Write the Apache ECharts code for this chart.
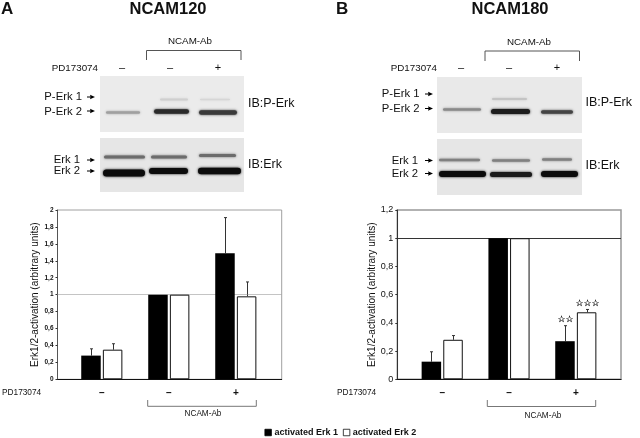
<!DOCTYPE html>
<html><head><meta charset="utf-8">
<style>html,body{margin:0;padding:0;background:#fff}#c{width:640px;height:438px}</style>
<script src="https://cdn.jsdelivr.net/npm/echarts@6/dist/echarts.min.js"></script>
</head><body><div id="c"></div>
<script>
const treatments = ['–', '–', '+'];
const erk1A = [0.28, 1, 1.49];
const erk2A = [0.35, 1, 0.98];
const erk1TopA = [0.36, null, 1.91];
const erk2TopA = [0.42, null, 1.15];
const erk1B = [0.125, 1, 0.27];
const erk2B = [0.28, 1, 0.475];
const erk1TopB = [0.195, null, 0.38];
const erk2TopB = [0.31, null, 0.495];
const starsErk1B = ['', '', '☆☆'];
const starsErk2B = ['', '', '☆☆☆'];

const FONT = '"Liberation Sans", Arial, sans-serif';
const INK = '#111';
const fmt = v => String(+v.toFixed(1)).replace('.', ',');
const G = [];
function txt(text, x, y, size, align, extra) {
  G.push({type:'text', z:5, style:Object.assign({text, x, y, font:`${size}px ${FONT}`, textAlign:align||'left', textVerticalAlign:'middle', fill:INK}, extra||{})});
}
function line(pts, color) {
  G.push({type:'polyline', z:5, shape:{points:pts}, style:{stroke:color||'#555', lineWidth:1, fill:null}});
}
function rect(x, y, w, h, fill) { G.push({type:'rect', z:1, shape:{x,y,width:w,height:h}, style:{fill}}); }
function band(x1, x2, cy, h, color, blur) {
  G.push({type:'rect', z:2, shape:{x:x1, y:cy-h/2, width:x2-x1, height:h, r:h/2}, style:{fill:color, shadowBlur:blur||2.5, shadowColor:color}});
}
function arrow(x1, x2, y) {
  G.push({type:'polygon', z:5, shape:{points:[[x1,y-0.6],[x2-4.5,y-0.6],[x2-5,y-2.2],[x2,y],[x2-5,y+2.2],[x2-4.5,y+0.6],[x1,y+0.6]]}, style:{fill:'#000'}});
}
// panel A blots
rect(100,76,144,56,'#ebebeb'); rect(100,138,144,54,'#e6e6e6');
band(106,140,112.5,2.5,'#a0a0a0'); band(154,189,111.5,4.5,'#2a2a2a'); band(199,237,112.5,4.5,'#3a3a3a');
band(160,188,99.5,2,'#cfcfcf'); band(200,230,99.5,1.5,'#d6d6d6');
band(104,145,157,3,'#6c6c6c'); band(151,187,157,3,'#6c6c6c'); band(199,236,155.5,3,'#6c6c6c');
band(103,145,173,7,'#0c0c0c'); band(149,188,171,6,'#0c0c0c'); band(198,241,171,6.5,'#0c0c0c');
// panel B blots
rect(437,77,145,56,'#e9e9e9'); rect(437,139,145,56,'#e6e6e6');
band(443,481,109.5,2.5,'#8a8a8a'); band(491,530,111.5,5,'#1d1d1d'); band(541,573,112,3.5,'#444');
band(492,527,99,2,'#c4c4c4');
band(439,480,160,2.5,'#808080'); band(492,530,160.5,2.5,'#808080'); band(542,572,159.5,2.5,'#808080');
band(439,486,174,6,'#0c0c0c'); band(490,532,174.5,5,'#1a1a1a'); band(541,578,174,6,'#0c0c0c');
// panel text
txt('A', 1, 9, 17, 'left', {font:`bold 17px ${FONT}`});
txt('B', 336, 9, 17, 'left', {font:`bold 17px ${FONT}`});
txt('NCAM-Ab', 190, 41, 9.8, 'center');
txt('NCAM-Ab', 529, 42, 9.8, 'center');
line([[146.5,60],[146.5,50.5],[241,50.5],[241,60]]);
line([[485,61],[485,51],[579.5,51],[579.5,61]]);
txt('PD173074', 98, 68, 9.8, 'right');
txt('PD173074', 437, 68, 9.8, 'right');
[[122,'–'],[170,'–'],[218,'+'],[461,'–'],[509,'–'],[557,'+']].forEach(p=>txt(p[1],p[0],67.5,11,'center'));
txt('P-Erk 1', 82, 97, 11.3, 'right'); txt('P-Erk 2', 82, 112, 11.3, 'right');
txt('Erk 1', 80, 159.5, 11.3, 'right'); txt('Erk 2', 80, 171, 11.3, 'right');
txt('P-Erk 1', 419.5, 94, 11.3, 'right'); txt('P-Erk 2', 419.5, 109, 11.3, 'right');
txt('Erk 1', 418, 161, 11.3, 'right'); txt('Erk 2', 418, 174, 11.3, 'right');
arrow(87,95,97); arrow(87,95,111); arrow(87,95,160); arrow(87,95,171);
arrow(425,433,94); arrow(425,433,108.5); arrow(425,433,160.5); arrow(425,433,173.5);
txt('IB:P-Erk', 248, 104, 12.5); txt('IB:Erk', 248, 165, 12.5);
txt('IB:P-Erk', 585.5, 103, 12.5); txt('IB:Erk', 585.5, 166, 12.5);
// below charts
txt('PD173074', 2, 393, 8.3); txt('PD173074', 337, 393, 8.3);
line([[147.7,400],[147.7,406.3],[256.3,406.3],[256.3,400]], '#777');
line([[487.3,400],[487.3,406.5],[595.7,406.5],[595.7,400]], '#777');
txt('NCAM-Ab', 203, 413.5, 8.2, 'center'); txt('NCAM-Ab', 543, 416, 8.2, 'center');

const values = {err12:erk1A, err22:erk2A, err13:erk1B, err23:erk2B};
function errorSeries(name, tops, xIdx, yIdx, sign, stars) {
  return {
    type:'custom', name, xAxisIndex:xIdx, yAxisIndex:yIdx, z:1, silent:true, legendHoverLink:false,
    data:tops.map((t,i)=>[i, t, values[name+xIdx][i]]),
    encode:{x:0,y:1},
    renderItem(params, api) {
      if (api.value(1) == null || isNaN(api.value(1))) return {type:'group', children:[]};
      const top = api.coord([api.value(0), api.value(1)]);
      const base = api.coord([api.value(0), api.value(2)]);
      const x = Math.round(top[0] + sign*10.8) + 0.5;
      const stroke = {stroke:'#333', lineWidth:1};
      const kids = [
        {type:'line', shape:{x1:x,y1:base[1],x2:x,y2:top[1]}, style:stroke},
        {type:'line', shape:{x1:x-1.5,y1:top[1],x2:x+1.5,y2:top[1]}, style:stroke}
      ];
      const s = stars && stars[params.dataIndex];
      if (s) kids.push({type:'text', style:{text:s, x:x, y:top[1]-6, textAlign:'center', textVerticalAlign:'middle', font:`9px "DejaVu Sans"`, fill:'#000', stroke:'#000', lineWidth:0.2}});
      return {type:'group', children:kids};
    }
  };
}
function bars(name, data, idx, white) {
  return {type:'bar', name, data, xAxisIndex:idx, yAxisIndex:idx, barWidth:19.5, barGap:'11%', animation:false, z:3,
    itemStyle: white ? {color:'#fff', borderColor:'#111', borderWidth:1} : {color:'#000', borderColor:'#000', borderWidth:0}};
}
function refLine(idx, color, type) {
  return {type:'line', data:[1], xAxisIndex:idx, yAxisIndex:idx, symbol:'none', lineStyle:{opacity:0}, silent:true, z:2, legendHoverLink:false,
    markLine:{silent:true, symbol:'none', label:{show:false}, animation:false, z:2, data:[{yAxis:1}], lineStyle:{color, type, width:1}}};
}
const frameX = i => ({type:'category', gridIndex:i, data:[''], axisLine:{show:true,lineStyle:{color:'#111',width:1}}, axisTick:{show:false}, axisLabel:{show:false}});
const innerX = i => ({type:'category', gridIndex:i, data:treatments, axisLine:{show:false}, axisTick:{show:false},
  axisLabel:{interval:0, margin:9, fontSize:10, fontWeight:'bold', color:INK, fontFamily:FONT}});
const frameY = (i,max,size,gap,col) => ({type:'value', gridIndex:i, min:0, max, interval:0.2, splitLine:{show:false},
  name:'Erk1/2-activation (arbitrary units)', nameLocation:'middle', nameGap:gap, nameTextStyle:{fontSize:10, color:INK, fontFamily:FONT},
  axisLine:{show:true,lineStyle:{color:col,width:1}}, axisTick:{show:true,length:2,lineStyle:{color:'#333'}},
  axisLabel:{formatter:fmt, fontSize:size, margin:4, color:INK, fontFamily:FONT, fontWeight:size<8?'bold':'normal'}});
const innerY = (i,max) => ({type:'value', gridIndex:i, min:0, max, interval:0.2, show:false});

const option = {
  animation:false,
  backgroundColor:'#fff',
  textStyle:{fontFamily:FONT},
  title:[
    {text:'NCAM120', left:168, top:9, textAlign:'center', textVerticalAlign:'middle', textStyle:{fontSize:16.5, fontWeight:'bold', color:INK, fontFamily:FONT}, padding:0},
    {text:'NCAM180', left:510, top:9, textAlign:'center', textVerticalAlign:'middle', textStyle:{fontSize:16.5, fontWeight:'bold', color:INK, fontFamily:FONT}, padding:0}
  ],
  legend:{data:['activated Erk 1','activated Erk 2'], left:264.5, top:428, itemWidth:6.5, itemHeight:6.5, itemGap:5, padding:0, icon:'rect',
    itemStyle:{borderWidth:0.8}, selectedMode:false,
    textStyle:{fontSize:9, fontWeight:'bold', color:INK, fontFamily:FONT, padding:[0,0,0,-2]}},
  grid:[
    {left:57.5, top:210, width:224.2, height:169.3, show:true, borderColor:'#a0a0a0', borderWidth:1, backgroundColor:'transparent'},
    {left:397.3, top:210, width:223.7, height:169.3, show:true, borderColor:'#999', borderWidth:1.5, backgroundColor:'transparent'},
    {left:68.3, top:210, width:201, height:169.3},
    {left:408.8, top:210, width:200.4, height:169.3}
  ],
  xAxis:[frameX(0), frameX(1), innerX(2), innerX(3)],
  yAxis:[frameY(0,2,6.5,15,'#555'), frameY(1,1.2,9,19,'#333'), innerY(2,2), innerY(3,1.2)],
  series:[
    refLine(0,'#888','dotted'), refLine(1,'#333','solid'),
    bars('activated Erk 1', erk1A, 2, false), bars('activated Erk 2', erk2A, 2, true),
    bars('activated Erk 1', erk1B, 3, false), bars('activated Erk 2', erk2B, 3, true),
    errorSeries('err1', erk1TopA, 2, 2, -1),
    errorSeries('err2', erk2TopA, 2, 2, 1),
    errorSeries('err1', erk1TopB, 3, 3, -1, starsErk1B),
    errorSeries('err2', erk2TopB, 3, 3, 1, starsErk2B)
  ],
  graphic:G
};
echarts.init(document.getElementById('c'), null, {renderer:'canvas'}).setOption(option);
</script></body></html>
